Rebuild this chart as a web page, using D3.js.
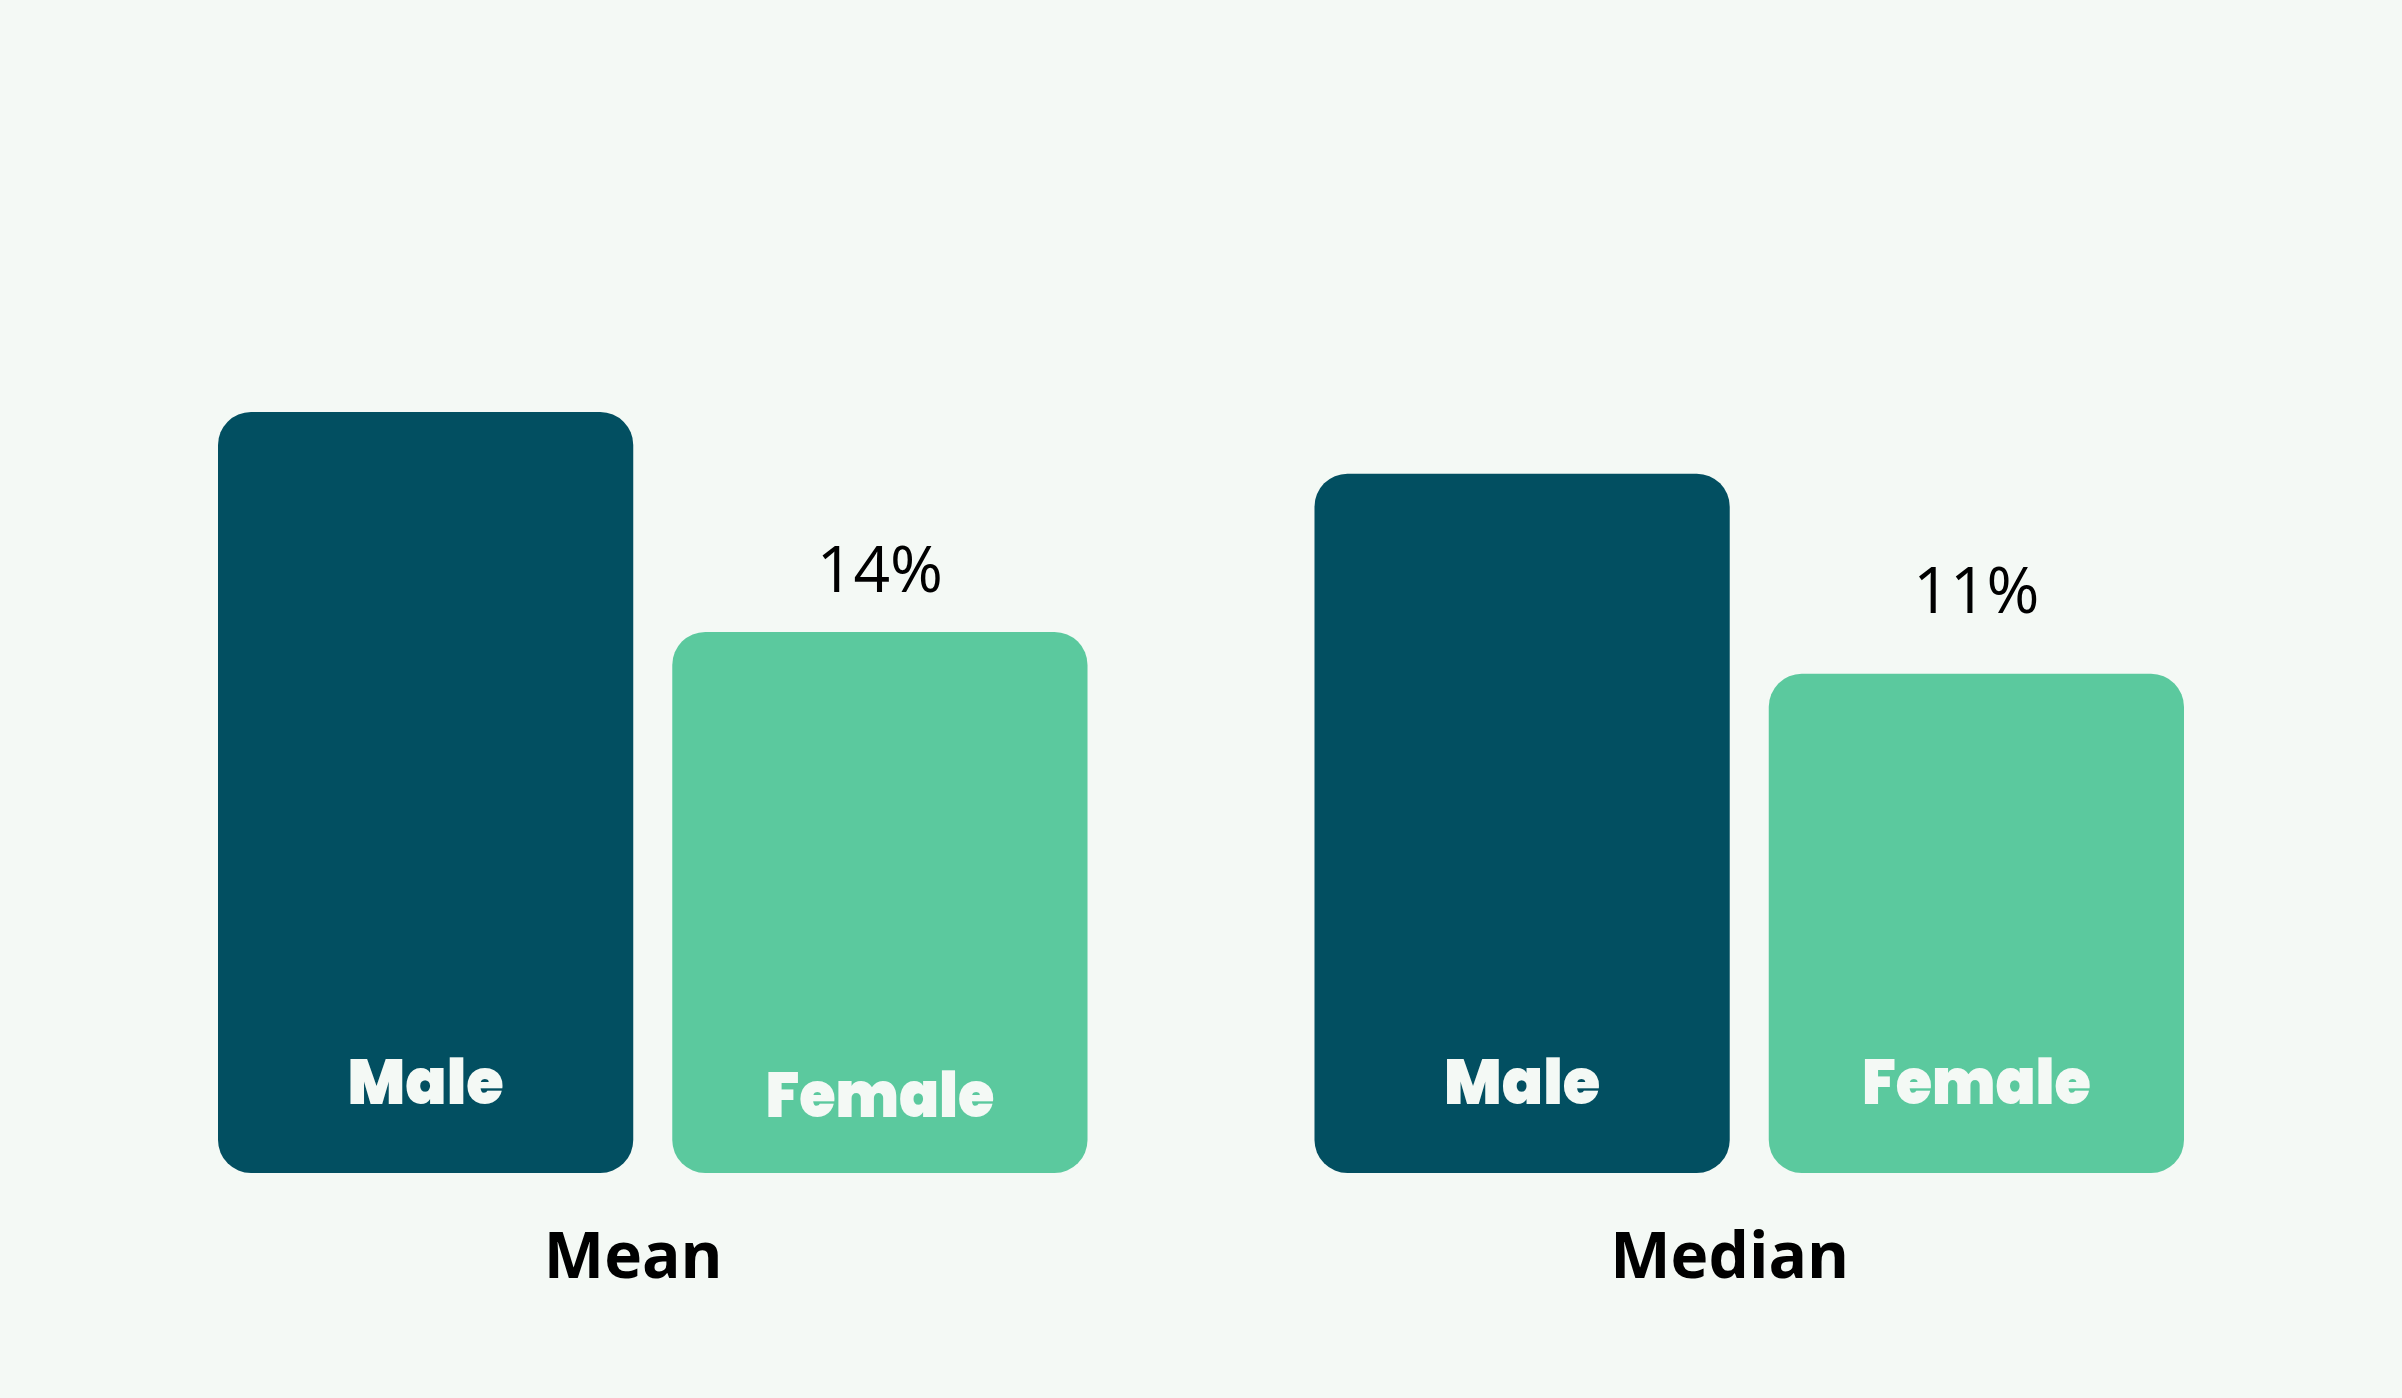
<!DOCTYPE html>
<html>
<head>
<meta charset="utf-8">
<script src="https://cdn.jsdelivr.net/npm/d3@7"></script>
<style>
  html, body { margin: 0; padding: 0; background: #F4F9F5; }
  svg { display: block; }
</style>
</head>
<body>
<div id="chart"></div>
<script>
// ---- data ----
const groups = ["Mean", "Median"];
const genders = ["Male", "Female"];
const maleValues = [100, 91.9];
const femaleValues = [71.1, 65.6];
const gapLabels = ["14%", "11%"];

// ---- layout ----
const W = 2402, H = 1398;
const bg = "#F4F9F5";
const colors = { Male: "#024F61", Female: "#5BC99E" };

const svg = d3.select("#chart").append("svg")
  .attr("width", W).attr("height", H)
  .attr("viewBox", `0 0 ${W} ${H}`);

svg.append("rect").attr("width", W).attr("height", H).attr("fill", bg);

const x0 = d3.scaleBand().domain(groups).range([218, 2184]).paddingInner(0.207).paddingOuter(0);
const x1 = d3.scaleBand().domain(genders).range([0, x0.bandwidth()]).paddingInner(0.0859).paddingOuter(0);
const y = d3.scaleLinear().domain([0, 100]).range([1173, 412]);

const rows = [];
groups.forEach((g, i) => {
  rows.push({ group: g, gender: "Male", value: maleValues[i], gi: i });
  rows.push({ group: g, gender: "Female", value: femaleValues[i], gi: i });
});

const g = svg.append("g");

g.selectAll("rect.bar").data(rows).join("rect")
  .attr("class", "bar")
  .attr("x", d => x0(d.group) + x1(d.gender))
  .attr("y", d => y(d.value))
  .attr("width", x1.bandwidth())
  .attr("height", d => y(0) - y(d.value))
  .attr("rx", 33).attr("ry", 33)
  .attr("fill", d => colors[d.gender]);

// inner labels
const innerOffset = (d) => (d.group === "Mean" && d.gender === "Female") ? 56 : 69;
g.selectAll("text.inner").data(rows).join("text")
  .attr("class", "inner")
  .attr("x", d => x0(d.group) + x1(d.gender) + x1.bandwidth() / 2)
  .attr("y", d => y(0) - innerOffset(d))
  .attr("text-anchor", "middle")
  .attr("fill", bg)
  .style("font-family", "Poppins, Inter, 'Open Sans', sans-serif")
  .style("font-weight", 900)
  .style("font-size", "62px")
  .attr("textLength", d => d.gender === "Male" ? 156 : 229)
  .attr("lengthAdjust", "spacingAndGlyphs")
  .text(d => d.gender);

// gap labels above female bars
const gapOffset = [40, 61];
g.selectAll("text.gap").data(groups).join("text")
  .attr("class", "gap")
  .attr("x", d => x0(d) + x1("Female") + x1.bandwidth() / 2)
  .attr("y", (d, i) => y(femaleValues[i]) - gapOffset[i])
  .attr("text-anchor", "middle")
  .attr("fill", "#000")
  .style("font-family", "'Open Sans', sans-serif")
  .style("font-weight", 400)
  .style("font-size", "64px")
  .text((d, i) => gapLabels[i]);

// group labels
g.selectAll("text.group").data(groups).join("text")
  .attr("class", "group")
  .attr("x", d => x0(d) + x1("Male") + x1.bandwidth())
  .attr("y", y(0) + 105)
  .attr("text-anchor", "middle")
  .attr("fill", "#000")
  .style("font-family", "'Open Sans', sans-serif")
  .style("font-weight", 700)
  .style("font-size", "64px")
  .text(d => d);
</script>
</body>
</html>
